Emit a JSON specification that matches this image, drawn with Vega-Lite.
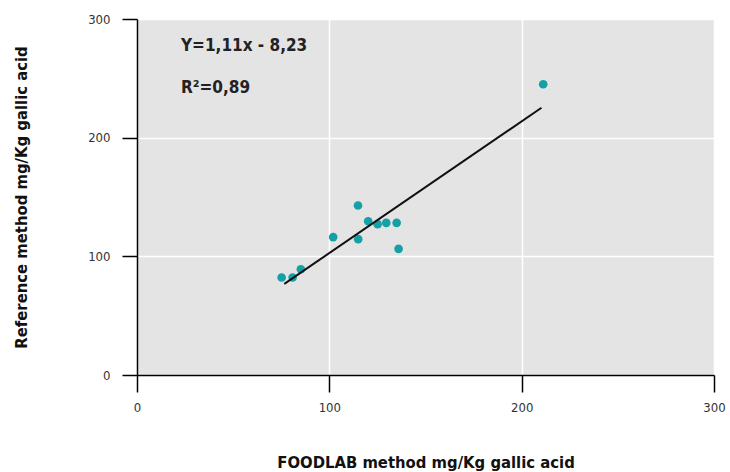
{
  "$schema": "https://vega.github.io/schema/vega-lite/v6.json",
  "width": 577,
  "height": 356,
  "autosize": "none",
  "padding": {"left": 137, "top": 19, "right": 16, "bottom": 97},
  "background": "white",
  "config": {
    "view": {"fill": "#e4e4e4", "stroke": null},
    "font": "DejaVu Sans Condensed, Liberation Sans, sans-serif"
  },
  "datasets": {
    "points": [
      {"foodlab": 75.2, "reference": 82.2},
      {"foodlab": 80.9, "reference": 82.2},
      {"foodlab": 85.2, "reference": 89.1},
      {"foodlab": 102.0, "reference": 116.2},
      {"foodlab": 114.9, "reference": 142.8},
      {"foodlab": 115.0, "reference": 114.5},
      {"foodlab": 120.2, "reference": 129.6},
      {"foodlab": 125.1, "reference": 127.1},
      {"foodlab": 129.6, "reference": 128.2},
      {"foodlab": 135.0, "reference": 128.2},
      {"foodlab": 136.0, "reference": 106.3},
      {"foodlab": 211.2, "reference": 245.0}
    ],
    "fit": [
      {"foodlab": 76.6, "reference": 76.8},
      {"foodlab": 210.3, "reference": 225.2}
    ],
    "notes": [
      {"foodlab": 22.9, "reference": 277.4, "label": "Y=1,11x - 8,23"},
      {"foodlab": 22.9, "reference": 241.6, "label": "R²=0,89"}
    ]
  },
  "layer": [
    {
      "data": {"name": "points"},
      "mark": {"type": "circle", "size": 75, "color": "#14a0a4", "opacity": 1},
      "encoding": {
        "x": {
          "field": "foodlab", "type": "quantitative",
          "scale": {"domain": [0, 300], "nice": false},
          "axis": {
            "title": "FOODLAB method mg/Kg gallic acid",
            "values": [0, 100, 200, 300],
            "labelFlush": false,
            "grid": true, "gridColor": "white", "gridWidth": 1.5,
            "domainColor": "black", "domainWidth": 1.5,
            "tickColor": "black", "tickWidth": 1.5, "tickSize": 17,
            "labelFont": "DejaVu Sans Condensed, Liberation Sans, sans-serif", "labelFontSize": 13, "labelColor": "#333",
            "labelPadding": 9,
            "titleFont": "DejaVu Sans Condensed, Liberation Sans, sans-serif", "titleFontSize": 16.5, "titleFontWeight": "bold",
            "titleColor": "#111", "titlePadding": 40
          }
        },
        "y": {
          "field": "reference", "type": "quantitative",
          "scale": {"domain": [0, 300], "nice": false},
          "axis": {
            "title": "Reference method mg/Kg gallic acid",
            "values": [0, 100, 200, 300],
            "labelFlush": false,
            "grid": true, "gridColor": "white", "gridWidth": 1.5,
            "domainColor": "black", "domainWidth": 1.5,
            "tickColor": "black", "tickWidth": 1.5, "tickSize": 15,
            "labelFont": "DejaVu Sans Condensed, Liberation Sans, sans-serif", "labelFontSize": 13, "labelColor": "#333",
            "labelPadding": 12,
            "titleFont": "DejaVu Sans Condensed, Liberation Sans, sans-serif", "titleFontSize": 16.5, "titleFontWeight": "bold",
            "titleColor": "#111", "titlePadding": 58
          }
        }
      }
    },
    {
      "data": {"name": "fit"},
      "mark": {"type": "line", "color": "#111", "strokeWidth": 2},
      "encoding": {
        "x": {"field": "foodlab", "type": "quantitative"},
        "y": {"field": "reference", "type": "quantitative"}
      }
    },
    {
      "data": {"name": "notes"},
      "mark": {"type": "text", "align": "left", "baseline": "middle", "font": "DejaVu Sans Condensed, Liberation Sans, sans-serif", "fontSize": 17, "fontWeight": "bold", "color": "#222"},
      "encoding": {
        "x": {"field": "foodlab", "type": "quantitative"},
        "y": {"field": "reference", "type": "quantitative"},
        "text": {"field": "label"}
      }
    }
  ]
}
